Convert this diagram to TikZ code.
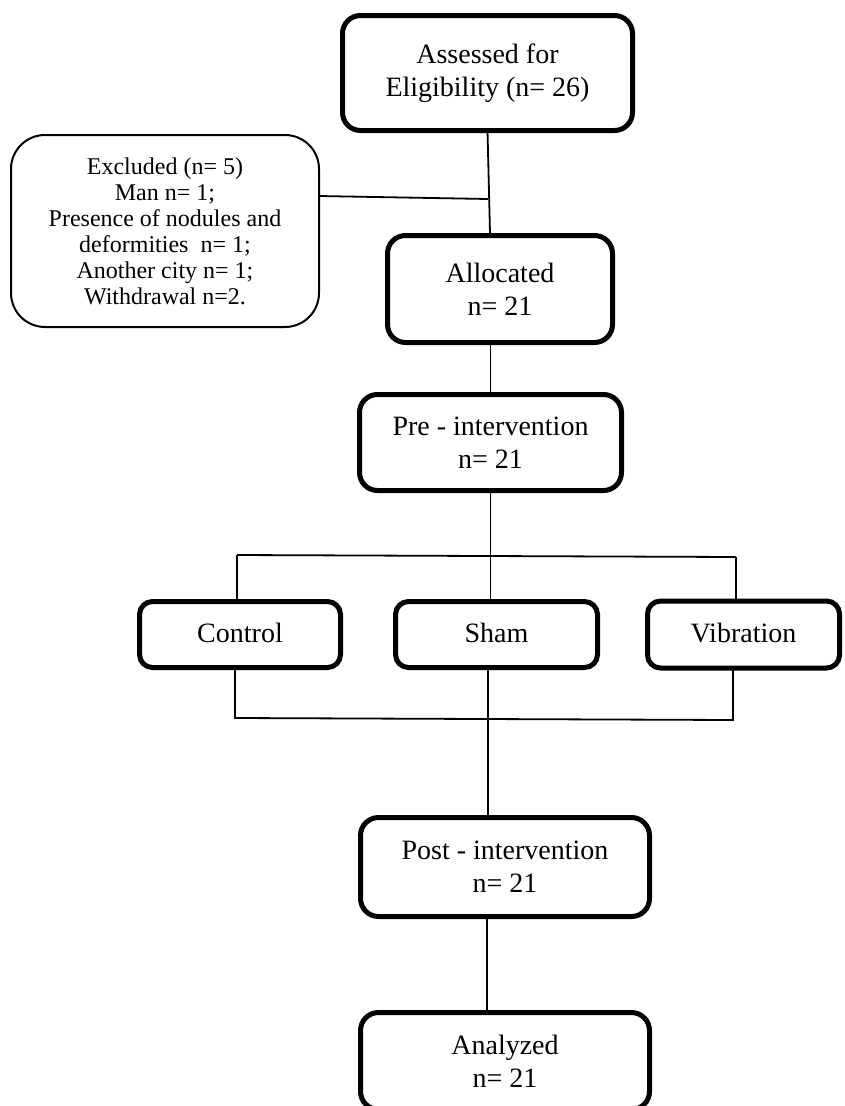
\documentclass[tikz,border=0pt]{standalone}
\usepackage{fontspec}
\setmainfont{Liberation Serif}
\begin{document}
\begin{tikzpicture}[x=1pt,y=-1pt,
  box/.style={draw, line width=5pt, rounded corners=18pt, inner sep=0pt, outer sep=0pt,
    align=center, font=\fontsize{28}{33}\selectfont},
  grp/.style={box, rounded corners=13pt, text height=19pt, text depth=4pt},
  exbox/.style={draw, line width=2pt, rounded corners=34pt, inner sep=0pt, outer sep=0pt,
    align=center, font=\fontsize{24}{26}\selectfont},
  conn/.style={line width=1.8pt}]
\useasboundingbox (0,0) rectangle (844,1106);
\node[box, minimum width=290pt, minimum height=115pt] (assessed) at (487.5,73) {Assessed for\\Eligibility (n= 26)};
\node[exbox, minimum width=308pt, minimum height=192pt] (excluded) at (165,231) {Excluded (n= 5)\\Man n= 1;\\Presence of nodules and\\deformities\ \ n= 1;\\Another city n= 1;\\Withdrawal n=2.};
\node[box, minimum width=225pt, minimum height=107pt] (alloc) at (500,289) {Allocated\\n= 21};
\node[box, minimum width=262pt, minimum height=96pt] (pre) at (490.5,442.5) {Pre - intervention\\n= 21};
\node[grp, minimum width=201pt, minimum height=66pt] (control) at (240,634.5) {Control};
\node[grp, minimum width=202pt, minimum height=66pt] (sham) at (496.5,634.5) {Sham};
\node[grp, minimum width=192pt, minimum height=67pt] (vib) at (743.5,634.5) {Vibration};
\node[box, minimum width=289pt, minimum height=99pt] (post) at (505,867) {Post - intervention\\n= 21};
\node[box, minimum width=289pt, minimum height=97pt] (analyzed) at (505,1061) {Analyzed\\n= 21};
\coordinate (jA) at (490,233);
\coordinate (jE) at (488,199);
\coordinate (hL) at (237,555);
\coordinate (hR) at (736,557);
\coordinate (bL) at (235,718);
\coordinate (bR) at (733,720);
\coordinate (bM) at (488,719);
\coordinate (pM) at (487,960);
\draw[conn] (assessed.south) -- (jA);
\draw[conn] ([yshift=35pt]excluded.east) -- (jE);
\draw[conn] (pre.north) -- (pre.north |- alloc.south);
\draw[conn] (pre.south) -- (pre.south |- sham.north);
\draw[conn] (hL) -- (hR);
\draw[conn] (hL) -- (hL |- control.north);
\draw[conn] (hR) -- (hR |- vib.north);
\draw[conn] (bL |- control.south) -- (bL) -- (bR) -- (bR |- vib.south);
\draw[conn] (sham.south -| bM) -- (post.north -| bM);
\draw[conn] (post.south -| pM) -- (analyzed.north -| pM);
\end{tikzpicture}
\end{document}
